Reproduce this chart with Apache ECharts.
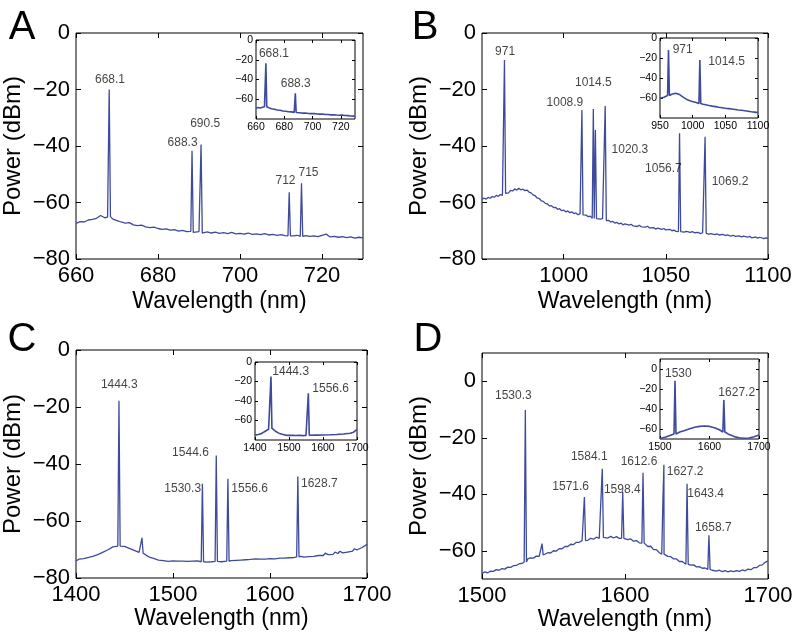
<!DOCTYPE html>
<html>
<head>
<meta charset="utf-8">
<script src="https://cdn.jsdelivr.net/npm/echarts@6.0.0/dist/echarts.min.js"></script>
<style>
  html, body { margin: 0; padding: 0; background: #fff; }
  #chart { width: 799px; height: 636px; }
</style>
</head>
<body>
<div id="chart"></div>
<script>
// ---- data ----
// spectra: [wavelength nm, power dBm]; peaks: [wavelength, top, foot]; labels: [text, x, y]

// panel A
const baseA = [[660,-67.4],[661,-66.8],[662,-66.9],[663,-66.2],[664,-66.0],[665,-65.6],[666,-64.6],[667,-65.4],[667.7,-65.2],
  [668.5,-64.8],[669,-65.9],[670,-66.4],[671,-66.9],[672,-67.3],[673,-67.1],[674,-67.9],[675,-68.2],[676,-68.0],[677,-68.6],
  [678,-68.9],[679,-68.7],[680,-69.2],[681,-69.5],[682,-69.3],[683,-69.8],[684,-69.6],[685,-70.1],[686,-69.9],[687,-70.3],
  [688,-70.2],[689,-70.5],[690,-70.3],[691,-70.6],[692,-70.4],[693,-70.8],[694,-70.5],[695,-70.9],[696,-70.7],[697,-71.0],
  [698,-70.6],[699,-71.1],[700,-70.9],[701,-71.2],[702,-70.8],[703,-71.3],[704,-71.1],[705,-71.4],[706,-71.0],[707,-71.5],
  [708,-71.3],[709,-71.6],[710,-71.4],[711,-71.7],[712.6,-71.5],[713,-71.8],[714,-71.6],[716,-71.7],[717,-72.0],
  [718,-71.8],[719,-72.1],[720,-71.6],[721,-71.2],[722,-72.2],[723,-72.0],[724,-72.3],[725,-72.1],[726,-72.4],[727,-72.2],
  [728,-72.6],[729,-72.3],[730,-72.5]];
const peaksA = [[668.1,-20.0,-65.0],[688.3,-41.7,-70.6],[690.5,-39.5,-70.8],[712,-56.4,-71.8],[715,-53.2,-72.0]];
const labelsA = [['668.1',668.3,-16.6],['688.3',686.0,-38.8],['690.5',691.5,-32.0],['712',711.1,-52.3],['715',716.7,-49.3]];

const baseAin = [[660,-69.2],[661.5,-68.4],[663,-68.9],[664.5,-68.1],[666,-67.6],[668,-67.9],[669.5,-68.8],[671,-69.6],
  [673,-70.1],[675,-70.9],[677,-71.2],[679,-71.9],[681,-72.1],[683,-72.6],[685,-72.8],[687,-73.3],[689,-73.5],[691,-73.6],
  [693,-74.1],[695,-74.0],[697,-74.4],[699,-74.6],[701,-74.5],[703,-75.0],[705,-75.1],[707,-75.0],[709,-75.5],[711,-75.4],
  [713,-75.8],[715,-75.7],[717,-76.0],[719,-76.2],[721,-76.1],[723,-76.5],[725,-76.6],[727,-76.9],[729,-77.1],[730,-77.2]];
const peaksAin = [[667,-23.5,-67.6],[687.8,-54.0,-73.4]];
const labelsAin = [['668.1',672.7,-13.5],['688.3',688.1,-43.8]];

// panel B
const baseB = [[960,-58.9],[961,-58.4],[962,-58.8],[963,-58.2],[964,-58.5],[965,-57.9],[966,-58.1],[967,-57.5],[968,-57.8],
  [969,-57.2],[970,-57.5],[972,-56.2],[973,-56.6],[974,-55.7],[975,-55.9],[976,-55.2],[977,-55.6],[978,-55.0],[979,-55.5],
  [980,-55.3],[981,-55.8],[982,-55.6],[983,-56.3],[984,-56.6],[985,-57.3],[986,-57.6],[987,-58.4],[988,-58.6],[989,-59.4],
  [990,-59.6],[991,-60.3],[992,-60.5],[993,-61.2],[994,-61.1],[995,-61.8],[996,-61.7],[997,-62.4],[998,-62.2],[999,-62.9],
  [1000,-62.7],[1001,-63.3],[1002,-63.0],[1003,-63.6],[1004,-63.3],[1005,-63.9],[1006,-63.7],[1007,-64.3],[1008,-64.0],
  [1010,-64.7],[1011,-64.5],[1012,-65.0],[1013,-64.8],[1014,-65.4],[1016.5,-65.6],[1017,-65.3],[1018,-65.9],[1019,-65.7],
  [1021.5,-66.6],[1022,-66.3],[1023,-66.9],[1024,-66.7],[1025,-67.3],[1026,-67.0],[1027,-67.6],[1028,-67.3],[1029,-67.9],
  [1030,-67.6],[1032,-68.0],[1033,-67.7],[1034,-68.3],[1036,-68.5],[1037,-68.1],[1038,-68.6],[1040,-68.7],[1041,-68.4],
  [1042,-69.0],[1044,-68.9],[1045,-69.4],[1046,-69.1],[1048,-69.5],[1049,-69.2],[1050,-69.7],[1052,-69.5],[1053,-70.0],
  [1054,-69.8],[1055,-70.2],[1058,-70.1],[1059,-70.5],[1060,-70.2],[1062,-70.6],[1063,-70.3],[1064,-70.7],[1066,-70.6],
  [1067,-71.0],[1068,-70.7],[1070,-70.8],[1071,-71.2],[1072,-71.0],[1074,-71.4],[1075,-71.1],[1076,-71.5],[1078,-71.3],
  [1079,-71.7],[1080,-71.5],[1082,-71.9],[1083,-71.6],[1084,-72.0],[1086,-71.8],[1087,-72.2],[1088,-71.9],[1090,-72.3],
  [1091,-72.0],[1092,-72.5],[1094,-72.2],[1095,-72.6],[1096,-72.3],[1098,-72.8],[1099,-72.5],[1100,-72.7]];
const peaksB = [[971,-9.6,-56.8],[1008.9,-27.3,-64.4],[1014.5,-26.9,-65.6],[1015.5,-34.3,-65.7],[1020.3,-25.8,-66.4],
  [1056.7,-35.5,-70.3],[1069.2,-36.7,-70.9]];
const labelsB = [['971',971.3,-6.6],['1008.9',1000.6,-24.5],['1014.5',1014.5,-17.5],['1020.3',1032.4,-41.4],
  ['1056.7',1048.8,-48.2],['1069.2',1081.4,-52.6]];

const baseBin = [[950,-60.3],[953,-59.8],[956,-59.2],[959,-58.6],[962,-57.9],[965,-57.1],[968,-56.3],[971,-55.6],[974,-55.2],
  [977,-55.6],[980,-56.6],[983,-57.9],[986,-59.3],[989,-60.7],[992,-61.8],[995,-62.6],[998,-63.2],[1001,-63.7],[1004,-64.2],
  [1007,-64.7],[1013,-65.8],[1016,-66.2],[1020,-66.8],[1025,-67.5],[1030,-68.1],[1035,-68.6],[1040,-69.2],[1045,-69.7],
  [1050,-70.3],[1055,-70.6],[1060,-71.0],[1065,-71.5],[1070,-72.0],[1075,-72.3],[1080,-72.8],[1085,-73.2],[1090,-73.7],
  [1095,-74.1],[1100,-74.6]];
const peaksBin = [[963,-12.0,-57.6],[1011,-22.0,-65.5]];
const labelsBin = [['971',984.7,-11.3],['1014.5',1052,-23.7]];

// panel C
const baseC = [[1400,-74.0],[1403,-73.4],[1405,-73.9],[1408,-73.2],[1410,-73.6],[1413,-72.8],[1415,-73.1],[1418,-72.3],
  [1420,-72.5],[1423,-71.7],[1425,-71.8],[1428,-70.9],[1430,-70.8],[1433,-70.1],[1435,-69.9],[1438,-69.1],[1440,-69.3],
  [1447,-68.4],[1450,-68.9],[1452,-68.6],[1455,-69.6],[1457,-69.4],[1460,-70.3],[1462,-70.1],[1465,-71.0],[1470,-71.8],
  [1472,-71.9],[1475,-72.6],[1477,-72.4],[1480,-73.1],[1482,-72.9],[1485,-73.7],[1487,-73.4],[1490,-73.9],[1492,-73.6],
  [1495,-74.2],[1497,-73.8],[1500,-74.0],[1502,-74.4],[1505,-74.1],[1507,-74.5],[1510,-74.1],[1512,-74.6],[1515,-74.2],
  [1517,-74.5],[1520,-74.1],[1522,-74.6],[1525,-74.0],[1527,-74.4],[1535,-74.4],[1537,-74.0],[1540,-74.3],[1550,-74.3],
  [1552,-73.9],[1560,-73.9],[1562,-74.3],[1565,-73.8],[1567,-74.2],[1570,-73.7],[1572,-74.1],[1575,-73.6],[1577,-73.9],
  [1580,-73.5],[1582,-73.8],[1585,-73.3],[1587,-73.7],[1590,-73.4],[1592,-73.0],[1595,-73.4],[1597,-72.9],[1600,-73.2],
  [1602,-72.8],[1605,-73.3],[1607,-72.7],[1610,-73.0],[1612,-72.6],[1615,-73.0],[1617,-72.5],[1620,-72.9],[1622,-72.4],
  [1625,-72.8],[1632,-72.4],[1635,-72.7],[1637,-72.1],[1640,-72.5],[1642,-71.9],[1645,-72.4],[1647,-71.8],[1650,-72.1],
  [1652,-71.6],[1655,-72.1],[1657,-71.3],[1660,-71.8],[1662,-71.1],[1665,-71.7],[1667,-70.9],[1670,-71.4],[1672,-70.6],
  [1675,-71.2],[1677,-70.5],[1680,-70.9],[1682,-70.2],[1685,-70.6],[1687,-69.8],[1690,-70.1],[1692,-69.4],[1695,-69.3],
  [1697,-68.7],[1700,-68.2]];
const peaksC = [[1444.3,-17.8,-68.8],[1468,-65.9,-71.3],[1530.3,-46.9,-74.3],[1544.6,-37.0,-74.2],[1556.6,-45.2,-74.1],
  [1628.7,-44.4,-72.6]];
const labelsC = [['1444.3',1444.6,-12.2],['1544.6',1518,-36.2],['1530.3',1510,-48.7],['1556.6',1579,-48.7],
  ['1628.7',1650.9,-46.9]];

const baseCin = [[1400,-75.0],[1410,-74.3],[1420,-73.2],[1430,-71.0],[1440,-69.0],[1452,-69.4],[1460,-71.0],[1470,-73.0],
  [1480,-74.2],[1490,-75.0],[1500,-75.3],[1510,-75.1],[1520,-75.4],[1530,-75.2],[1540,-75.5],[1550,-75.4],[1565,-75.2],
  [1580,-75.0],[1600,-74.8],[1620,-74.6],[1640,-74.3],[1660,-73.9],[1680,-73.0],[1690,-72.0],[1700,-69.0]];
const peaksCin = [[1447,-15.0,-68.2],[1556.9,-32.0,-75.2]];
const labelsCin = [['1444.3',1505,-10.0],['1556.6',1622.6,-27.0]];

// panel D
const baseD = [[1500,-68.0],[1502,-67.5],[1504,-67.8],[1506,-67.2],[1508,-67.3],[1510,-66.7],[1512,-66.9],[1514,-66.3],
  [1516,-66.5],[1518,-65.8],[1520,-65.9],[1522,-65.3],[1524,-65.2],[1526,-64.6],[1528,-64.5],[1532,-62.9],[1534,-62.5],
  [1536,-62.6],[1538,-61.9],[1540,-62.0],[1544,-61.3],[1546,-60.7],[1548,-60.8],[1550,-60.0],[1552,-60.1],[1554,-59.3],
  [1556,-59.3],[1558,-58.5],[1560,-58.5],[1562,-57.7],[1564,-57.8],[1566,-57.0],[1568,-57.0],[1570,-56.4],[1574,-56.3],
  [1576,-55.6],[1578,-55.9],[1580,-55.2],[1582,-55.6],[1586,-55.0],[1588,-55.5],[1590,-54.9],[1592,-55.5],[1594,-55.0],
  [1596,-55.6],[1600,-55.5],[1602,-56.1],[1604,-55.8],[1606,-56.6],[1608,-56.4],[1610,-57.2],[1614,-57.6],[1616,-58.5],
  [1618,-58.4],[1620,-59.6],[1622,-59.6],[1624,-60.7],[1630,-62.0],[1632,-62.1],[1634,-62.9],[1636,-62.9],[1638,-63.8],
  [1640,-63.8],[1646,-65.1],[1648,-65.0],[1650,-65.7],[1652,-65.6],[1654,-66.2],[1656,-66.1],[1661,-66.9],[1662,-66.6],
  [1664,-67.2],[1666,-66.9],[1668,-67.4],[1670,-67.0],[1672,-67.5],[1674,-67.1],[1676,-67.4],[1678,-67.0],[1680,-67.3],
  [1682,-66.8],[1684,-67.1],[1686,-66.5],[1688,-66.7],[1690,-66.0],[1692,-66.0],[1694,-65.2],[1696,-65.0],[1698,-64.1],
  [1700,-63.6]];
const peaksD = [[1530.3,-10.2,-64.0],[1542,-57.5,-61.5],[1571.6,-41.0,-56.4],[1584.1,-31.0,-55.3],[1598.4,-39.1,-55.6],
  [1612.6,-32.4,-57.3],[1626.5,-42.4,-61.2],[1627.2,-29.6,-61.4],[1643.4,-36.3,-64.8],[1658.7,-54.5,-66.6]];
const labelsD = [['1530.3',1521.9,-5.2],['1571.6',1562,-37.3],['1584.1',1575,-26.7],['1598.4',1598.1,-38.5],
  ['1612.6',1609.8,-28.5],['1627.2',1642,-32.1],['1643.4',1656.4,-39.7],['1658.7',1661.7,-51.8]];

const baseDin = [[1500,-69.6],[1510,-68.3],[1520,-66.5],[1540,-63.0],[1550,-61.4],[1560,-59.8],[1570,-58.3],[1580,-57.4],
  [1590,-57.0],[1600,-57.4],[1610,-58.7],[1620,-60.8],[1640,-65.6],[1650,-67.6],[1660,-68.8],[1670,-69.2],[1680,-69.0],
  [1690,-67.8],[1700,-66.0]];
const peaksDin = [[1530.3,-11.7,-65.0],[1629,-31.0,-63.0]];
const labelsDin = [['1530',1537,-5.0],['1627.2',1655,-23.7]];

// tick labels
const ticksMainY = [-80, -60, -40, -20, 0];
const ticksMainYD = [-60, -40, -20, 0];
const ticksInY = [-60, -40, -20, 0];
const ticksAx = [660, 680, 700, 720];
const ticksBx = [1000, 1050, 1100];
const ticksBinx = [950, 1000, 1050, 1100];
const ticksCx = [1400, 1500, 1600, 1700];
const ticksDx = [1500, 1600, 1700];

// ---- layout ----
const FONT = 'Liberation Sans, Arial, Helvetica, sans-serif';
const LINE = '#3e4a9c';

const panels = [
  { box: [76, 33, 287, 226], x: [660, 730], y: [-80, 0], xt: ticksAx, yt: ticksMainY, base: baseA, peaks: peaksA, labels: labelsA, hw: 0.3, xGap: 31 },
  { box: [482, 33, 286, 226], x: [960, 1100], y: [-80, 0], xt: ticksBx, yt: ticksMainY, base: baseB, peaks: peaksB, labels: labelsB, hw: 0.55, xGap: 31 },
  { box: [76, 350, 291, 228], x: [1400, 1700], y: [-80, 0], xt: ticksCx, yt: ticksMainY, base: baseC, peaks: peaksC, labels: labelsC, hw: 1.2, xGap: 27 },
  { box: [482, 353, 286, 226], x: [1500, 1700], y: [-70, 10], xt: ticksDx, yt: ticksMainYD, base: baseD, peaks: peaksD, labels: labelsD, hw: 0.8, xGap: 27 },
  { inset: true, box: [256, 40, 99, 79], x: [660, 730], y: [-80, 0], xt: ticksAx, yt: ticksInY, base: baseAin, peaks: peaksAin, labels: labelsAin, hw: 0.6 },
  { inset: true, box: [660, 38, 98, 80], x: [950, 1100], y: [-80, 0], xt: ticksBinx, yt: ticksInY, base: baseBin, peaks: peaksBin, labels: labelsBin, hw: 1.4 },
  { inset: true, box: [255, 362, 102, 78], x: [1400, 1700], y: [-80, 0], xt: ticksCx, yt: ticksInY, base: baseCin, peaks: peaksCin, labels: labelsCin, hw: 2.8 },
  { inset: true, box: [660, 359, 99, 80], x: [1500, 1700], y: [-70, 10], xt: ticksDx, yt: ticksInY, base: baseDin, peaks: peaksDin, labels: labelsDin, hw: 2.0 }
];

// baseline points plus a narrow spike for every peak
function spectrum(base, peaks, hw) {
  const pts = base.map(p => [p[0], p[1]]);
  peaks.forEach(p => {
    pts.push([p[0] - hw, p[2]], [p[0], p[1]], [p[0] + hw, p[2]]);
  });
  pts.sort((a, b) => a[0] - b[0]);
  return pts;
}

const minus = v => String(v).replace('-', '\u2212');

const grid = [], xAxis = [], yAxis = [], series = [];

panels.forEach((p, i) => {
  const main = !p.inset;
  grid.push({
    left: p.box[0], top: p.box[1], width: p.box[2], height: p.box[3],
    show: true, borderColor: '#000', borderWidth: 1,
    backgroundColor: main ? 'transparent' : '#fff',
    z: main ? 0 : 5
  });
  const tick = (vals) => ({ inside: true, length: main ? 5 : 3, customValues: vals, lineStyle: { color: '#000', width: 1 } });
  const lab = (vals) => ({
    customValues: vals, formatter: minus, color: '#000', fontFamily: FONT,
    fontSize: main ? 22 : 10.5, margin: main ? 6 : 3
  });
  const common = {
    gridIndex: i, type: 'value', splitLine: { show: false },
    axisLine: { show: false, onZero: false }, z: main ? 1 : 6
  };

  xAxis.push(Object.assign({}, common, {
    position: 'bottom', min: p.x[0], max: p.x[1], axisTick: tick(p.xt), axisLabel: lab(p.xt),
    name: main ? 'Wavelength (nm)' : '', nameLocation: 'middle', nameGap: p.xGap || 0,
    nameTextStyle: { fontSize: 23, color: '#000', fontFamily: FONT }
  }));
  xAxis.push(Object.assign({}, common, {
    position: 'top', min: p.x[0], max: p.x[1], axisTick: tick(p.xt), axisLabel: { show: false }
  }));
  yAxis.push(Object.assign({}, common, {
    position: 'left', min: p.y[0], max: p.y[1], axisTick: tick(p.yt), axisLabel: lab(p.yt),
    name: main ? 'Power (dBm)' : '', nameLocation: 'middle', nameGap: 51, nameRotate: 90,
    nameTextStyle: { fontSize: 24, color: '#000', fontFamily: FONT }
  }));
  yAxis.push(Object.assign({}, common, {
    position: 'right', min: p.y[0], max: p.y[1], axisTick: tick(p.yt), axisLabel: { show: false }
  }));

  series.push({
    type: 'line', xAxisIndex: 2 * i, yAxisIndex: 2 * i,
    data: spectrum(p.base, p.peaks, p.hw),
    showSymbol: false, symbol: 'none', silent: true,
    lineStyle: { color: LINE, width: main ? 1.3 : 1.6 },
    z: main ? 2 : 7
  });
  series.push({
    type: 'scatter', xAxisIndex: 2 * i, yAxisIndex: 2 * i,
    data: p.labels.map(l => ({ name: l[0], value: [l[1], l[2]] })),
    symbolSize: 1, itemStyle: { color: 'transparent' }, silent: true,
    label: { show: true, position: 'inside', formatter: '{b}', fontSize: 12, color: '#111', fontFamily: FONT },
    z: main ? 3 : 8
  });
});

const letters = [['A', 22, 28], ['B', 425, 28], ['C', 22, 340], ['D', 428, 340]];

const chart = echarts.init(document.getElementById('chart'), null, { renderer: 'canvas' });
chart.setOption({
  animation: false,
  backgroundColor: '#fff',
  grid: grid,
  xAxis: xAxis,
  yAxis: yAxis,
  series: series,
  graphic: letters.map(l => ({
    type: 'text', x: l[1], y: l[2], z: 10,
    style: { text: l[0], fontSize: 40, fontFamily: FONT, fill: '#000', align: 'center', verticalAlign: 'middle' }
  }))
});
</script>
</body>
</html>
